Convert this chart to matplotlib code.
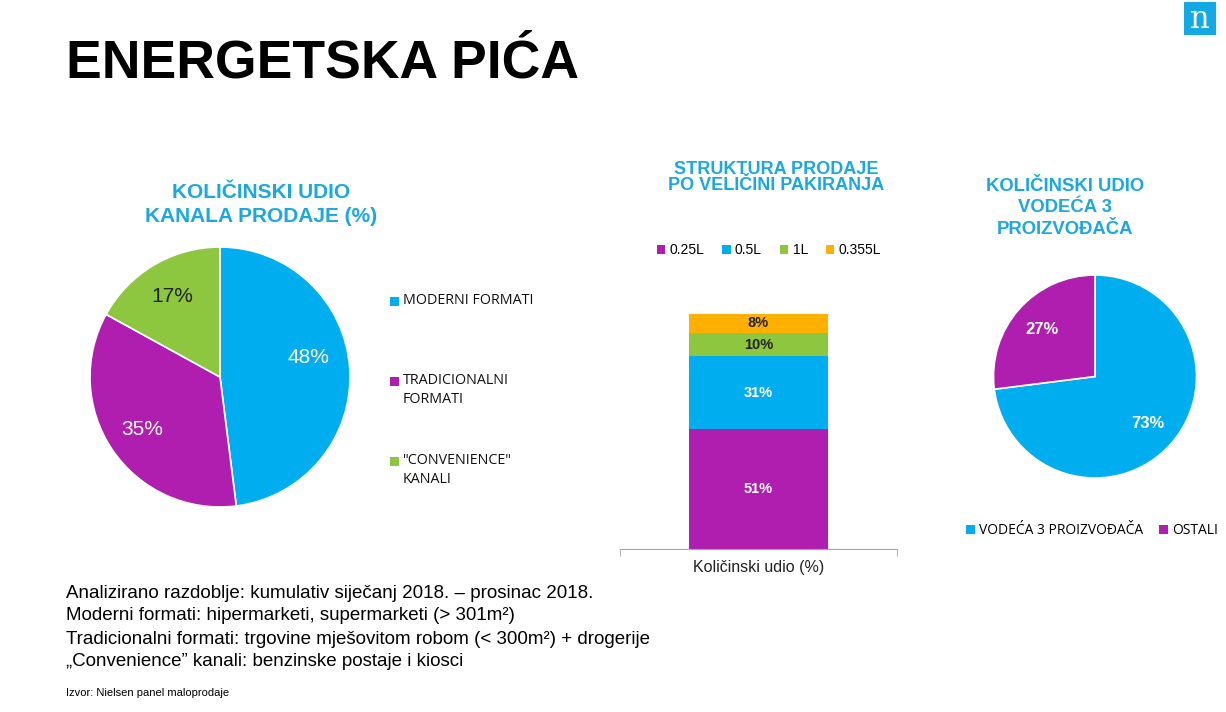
import matplotlib
matplotlib.use("Agg")
import matplotlib.pyplot as plt
from matplotlib.patches import Rectangle, Patch

# ---- data ----
channel_labels = ["MODERNI FORMATI", "TRADICIONALNI\nFORMATI", "\"CONVENIENCE\"\nKANALI"]
channel_values = [48, 35, 17]

size_labels = ["0.25L", "0.5L", "1L", "0.355L"]
size_values = [51, 31, 10, 8]
bar_category = ["Količinski udio (%)"]

producer_labels = ["VODEĆA 3 PROIZVOĐAČA", "OSTALI"]
producer_values = [73, 27]

footer_lines = [
    "Analizirano razdoblje: kumulativ siječanj 2018. – prosinac 2018.",
    "Moderni formati: hipermarketi, supermarketi (> 301m²)",
    "Tradicionalni formati: trgovine mješovitom robom (< 300m²) + drogerije",
    "„Convenience” kanali: benzinske postaje i kiosci",
]
source_text = "Izvor: Nielsen panel maloprodaje"

# ---- style ----
BLUE = "#00AEEF"
PURPLE = "#B01EB0"
GREEN = "#8DC63F"
ORANGE = "#FFB000"
TITLE_BLUE = "#1BA8E0"
W, H = 1226, 712

plt.rcParams["font.family"] = ["Liberation Sans", "DejaVu Sans"]
fig = plt.figure(figsize=(W / 100, H / 100), dpi=100)
fig.patch.set_facecolor("white")

def fx(x):
    return x / W

def fy(y):
    return 1 - y / H

def axes_px(left, top, right, bottom):
    return fig.add_axes([fx(left), fy(bottom), fx(right - left), (bottom - top) / H])

# main title
fig.text(fx(66), fy(63), "ENERGETSKA PIĆA", fontsize=38.5, fontweight="bold",
         ha="left", va="center", color="black")

# logo
fig.patches.append(Rectangle((fx(1184), fy(35)), fx(32), 33 / H, transform=fig.transFigure,
                             facecolor="#12A9E4", edgecolor="none"))
fig.text(fx(1200), fy(19), "n", fontsize=22, family="DejaVu Serif", color="white",
         ha="center", va="center")

# ---- pie 1 ----
ax1 = axes_px(90, 247, 350, 507)
cols1 = [BLUE, PURPLE, GREEN]
wedges, texts, autotexts = ax1.pie(channel_values, colors=cols1, startangle=90, counterclock=False,
                                   autopct="%d%%", pctdistance=0.72,
                                   wedgeprops=dict(edgecolor="white", linewidth=1.2),
                                   textprops=dict(fontsize=15))
autotexts[0].set_position((0.68, 0.15))
autotexts[0].set_color("white")
autotexts[1].set_color("white")
autotexts[2].set_color("#222222")
ax1.set_xlim(-1, 1)
ax1.set_ylim(-1, 1)
ax1.set_aspect("equal")

fig.text(fx(261), fy(222), "KOLIČINSKI UDIO\nKANALA PRODAJE (%)", fontsize=15,
         fontweight="bold", color=TITLE_BLUE, ha="center", va="baseline", linespacing=1.32,
         multialignment="center")

legend_y = [302, 382, 462]
for lab, col, y in zip(channel_labels, cols1, legend_y):
    fig.patches.append(Rectangle((fx(390), fy(y + 4)), fx(9), 9 / H, transform=fig.transFigure,
                                 facecolor=col, edgecolor="none"))
    fig.text(fx(403), fy(y - 9), lab, fontsize=10.3, family=["Open Sans", "DejaVu Sans"],
             ha="left", va="top", color="#111111", linespacing=1.35)

# ---- stacked bar ----
axb = axes_px(620, 314, 897, 549)
cols_b = [PURPLE, BLUE, GREEN, ORANGE]
txt_cols = ["white", "white", "#222222", "#222222"]
bottom = 0
for lab, val, col, tc in zip(size_labels, size_values, cols_b, txt_cols):
    bars = axb.bar(0, val, width=0.505, bottom=bottom, color=col, label=lab)
    axb.bar_label(bars, labels=[f"{val}%"], label_type="center", color=tc,
                  fontsize=10.5, fontweight="bold")
    bottom += val
axb.set_xlim(-0.5, 0.5)
axb.set_ylim(0, 100)
for s in ["top", "left", "right"]:
    axb.spines[s].set_visible(False)
axb.spines["bottom"].set_color("#A6A6A6")
axb.set_yticks([])
axb.set_xticks([0])
axb.set_xticklabels(bar_category, fontsize=11.5, color="#222222")
axb.tick_params(axis="x", length=0, pad=8)
axb.set_xticks([-0.5, 0.5], minor=True)
axb.tick_params(axis="x", which="minor", length=5, color="#A6A6A6")
axb.patch.set_alpha(0)

fig.text(fx(776), fy(190), "STRUKTURA PRODAJE\nPO VELIČINI PAKIRANJA", fontsize=13.0,
         fontweight="bold", color=TITLE_BLUE, ha="center", va="baseline", linespacing=0.95,
         multialignment="center")

hb, lb = axb.get_legend_handles_labels()
fig.legend(hb, lb, loc="center", bbox_to_anchor=(fx(769), fy(250)), ncol=4, frameon=False,
           fontsize=10, handlelength=0.6, handleheight=0.6, handletextpad=0.3,
           columnspacing=1.3, borderaxespad=0)

# ---- pie 3 ----
ax3 = axes_px(993, 275, 1197, 478)
cols3 = [BLUE, PURPLE]
w3, t3, a3 = ax3.pie(producer_values, colors=cols3, startangle=90, counterclock=False,
                     autopct="%d%%", pctdistance=0.7,
                     wedgeprops=dict(edgecolor="white", linewidth=1.2),
                     textprops=dict(fontsize=12, fontweight="bold", color="white"))
ax3.set_xlim(-1, 1)
ax3.set_ylim(-1, 1)
ax3.set_aspect("equal")

fig.text(fx(1065), fy(234), "KOLIČINSKI UDIO\nVODEĆA 3\nPROIZVOĐAČA", fontsize=13.3,
         fontweight="bold", color=TITLE_BLUE, ha="center", va="baseline", linespacing=1.36,
         multialignment="center")

handles3 = [Patch(facecolor=c, edgecolor="none") for c in cols3]
fig.legend(handles3, producer_labels, loc="center", bbox_to_anchor=(fx(1092), fy(531)), ncol=2,
           frameon=False, prop=dict(family=["Open Sans", "DejaVu Sans"], size=10),
           handlelength=0.6, handleheight=0.6, handletextpad=0.3, columnspacing=1.2,
           borderaxespad=0)

# ---- footer ----
for i, line in enumerate(footer_lines):
    fig.text(fx(66), fy(593 + i * 23), line, fontsize=13.5, ha="left", va="center",
             color="black")
fig.text(fx(66), fy(693), source_text, fontsize=8, ha="left", va="center", color="black")

fig.savefig("out.png", dpi=100, facecolor="white")
